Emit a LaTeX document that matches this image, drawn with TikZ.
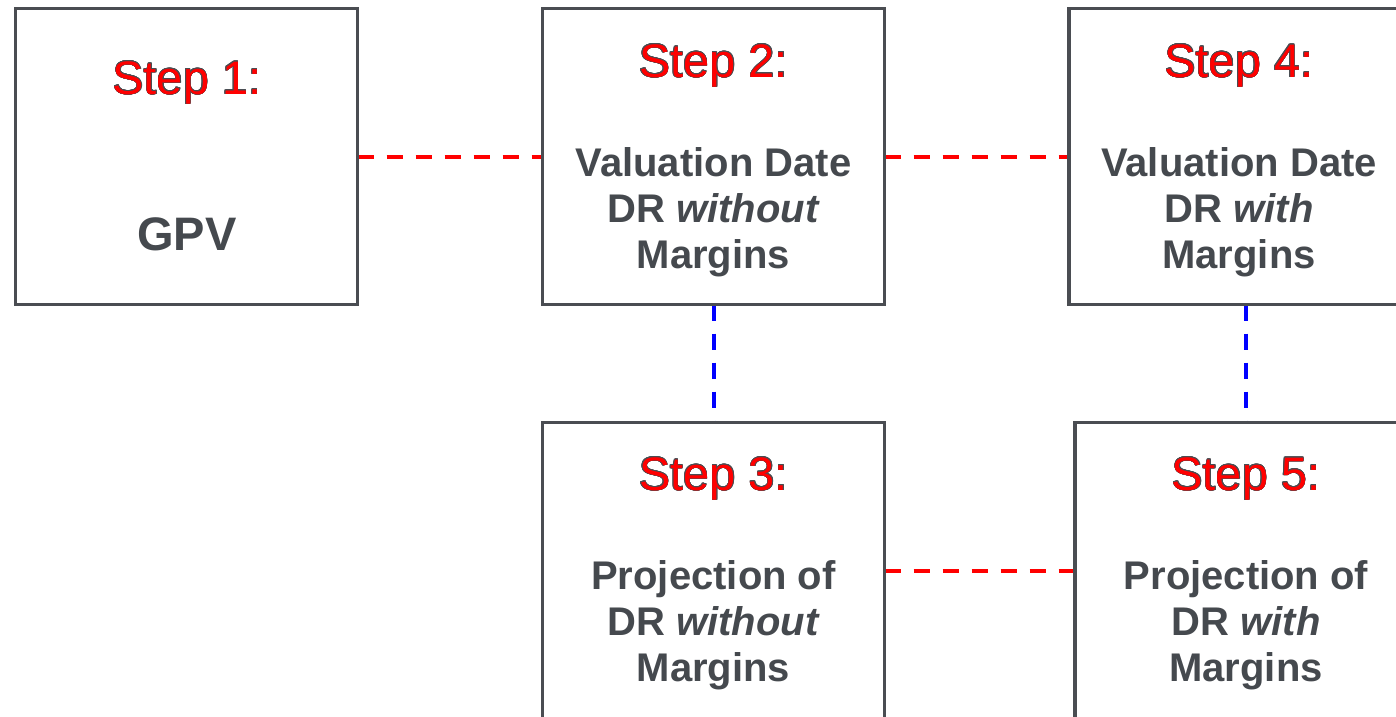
\documentclass[tikz,border=0pt]{standalone}
\usepackage{fontspec}
\setmainfont{Liberation Sans}
\usepackage[copies]{contour}
\contourlength{0.5pt}
\usetikzlibrary{calc,backgrounds}

\definecolor{boxgrey}{HTML}{4A4D52}
\definecolor{textgrey}{HTML}{45494E}
\definecolor{stepred}{HTML}{FF0000}
\definecolor{linkblue}{HTML}{0000FF}

\tikzset{
  stepbox/.style={draw=boxgrey, line width=3.5pt, minimum width=342pt,
    minimum height=296pt, inner sep=0pt, outer sep=0pt},
  steplabel/.style={anchor=base, text=stepred, inner sep=0pt,
    font=\fontsize{47}{54}\selectfont},
  bodytext/.style={anchor=base, text=textgrey, inner sep=0pt, align=center,
    font=\bfseries\fontsize{40}{46}\selectfont},
  bigtext/.style={anchor=base, text=textgrey, inner sep=0pt,
    font=\bfseries\fontsize{47}{54}\selectfont},
  redlink/.style={draw=stepred, line width=4pt, dash pattern=on 16pt off 13pt},
  bluelink/.style={draw=linkblue, line width=4pt, dash pattern=on 16pt off 13pt},
}

\begin{document}
\begin{tikzpicture}[x=1pt, y=-1pt]
  \useasboundingbox (0,0) rectangle (1396,716);
  \clip (0,0) rectangle (1396,716);

  % the five step boxes
  \node[stepbox] (b1) at (186.65,156.5) {};
  \node[stepbox] (b2) at (713.5,156.5) {};
  \node[stepbox] (b4) at (1240,156.5) {};
  \node[stepbox] (b3) at (713.5,570.5) {};
  \node[stepbox] (b5) at (1246,570.5) {};

  % step titles
  \node[steplabel] (s1) at (187,94) {\contour{boxgrey}{Step 1:}};
  \node[steplabel] (s2) at (713.5,77) {\contour{boxgrey}{Step 2:}};
  \node[steplabel] (s4) at (1239,77) {\contour{boxgrey}{Step 4:}};
  \node[steplabel] (s3) at (713.5,490) {\contour{boxgrey}{Step 3:}};
  \node[steplabel] (s5) at (1246,490) {\contour{boxgrey}{Step 5:}};

  % step contents (anchored on the baseline of the last line)
  \node[bigtext] (c1) at (187,250) {GPV};
  \node[bodytext] (c2) at (713.5,268) {Valuation Date\\DR \textit{without}\\Margins};
  \node[bodytext] (c4) at (1239,268) {Valuation Date\\DR \textit{with}\\Margins};
  \node[bodytext] (c3) at (713.5,681) {Projection of\\DR \textit{without}\\Margins};
  \node[bodytext] (c5) at (1246,681) {Projection of\\DR \textit{with}\\Margins};

  % dashed links between the steps
  \begin{pgfonlayer}{background}
    \draw[redlink] (b1.east) -- (b2.west);
    \draw[redlink] (b2.east) -- (b4.west);
    \draw[redlink] (b3.east) -- (b5.west);
    \draw[bluelink] (b2.south) -- (b3.north);
    \draw[bluelink] (b4.south -| b5.north) -- (b5.north);
  \end{pgfonlayer}
\end{tikzpicture}
\end{document}
